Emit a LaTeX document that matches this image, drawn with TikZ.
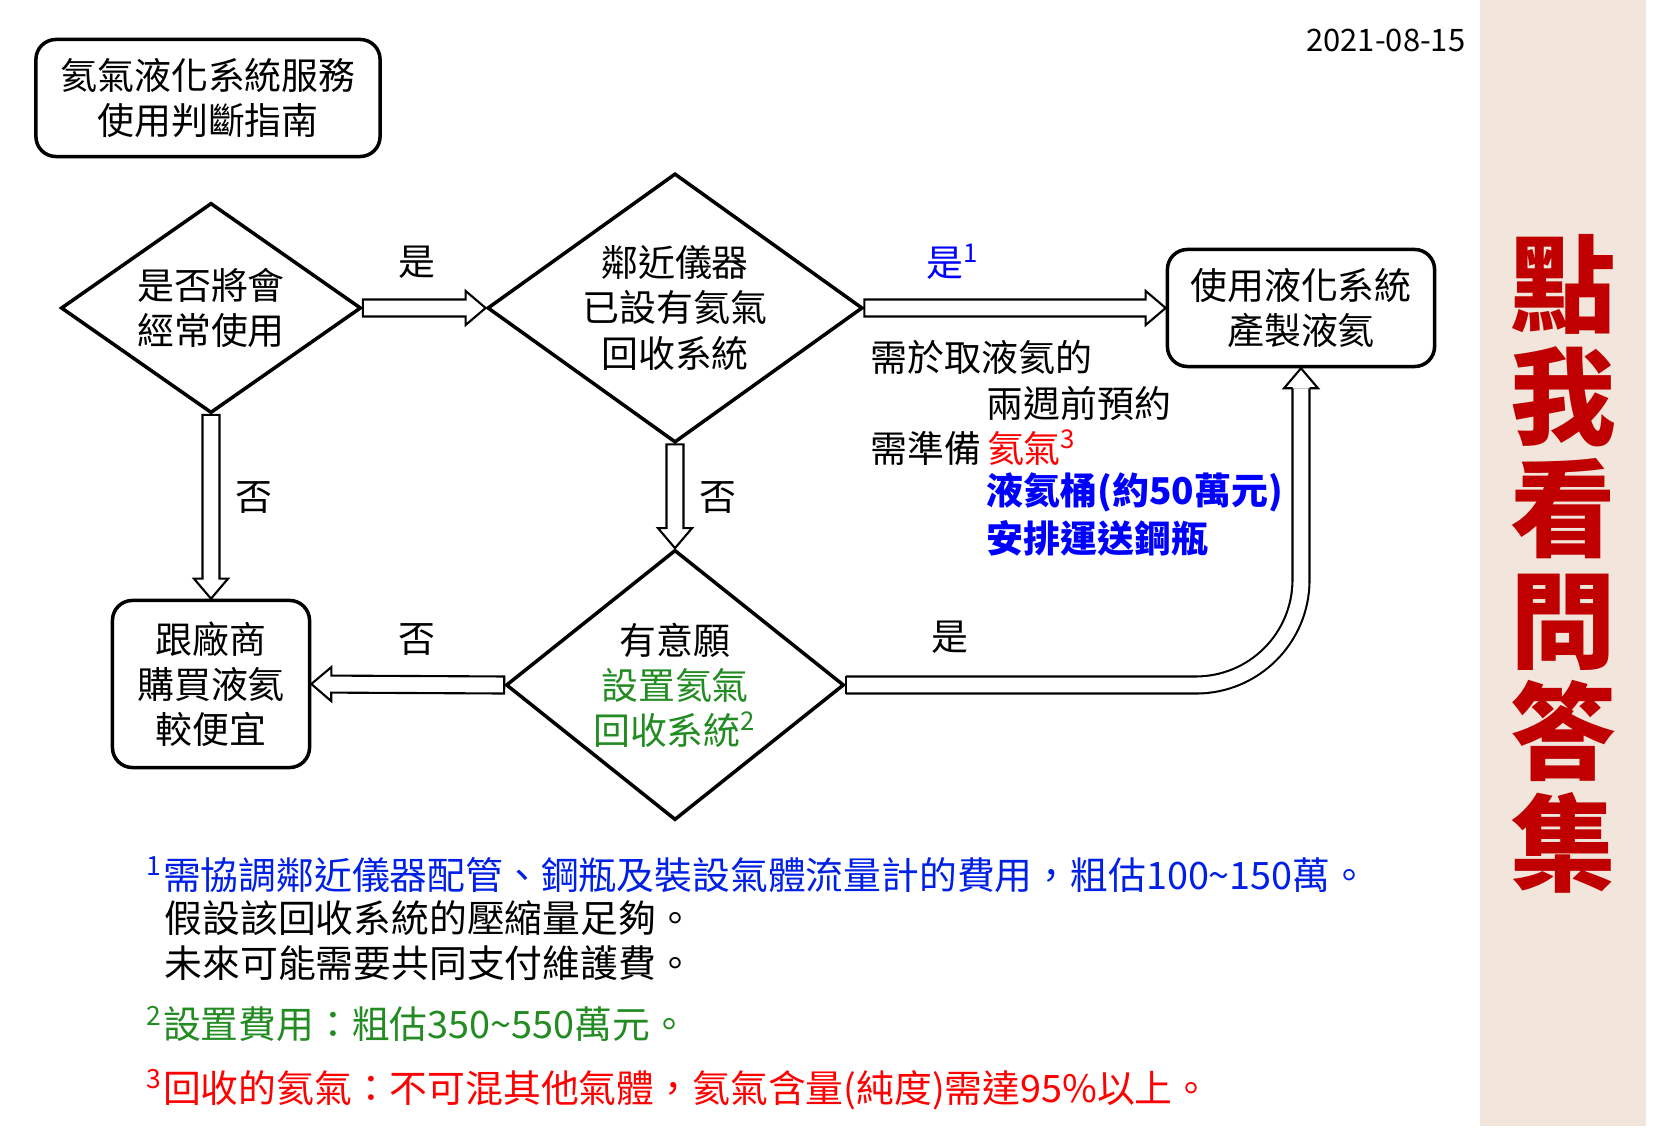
\documentclass[tikz,border=0pt]{standalone}
\usepackage{fontspec}
\setmainfont{Noto Sans CJK TC}
\usetikzlibrary{shapes.geometric,calc}
\definecolor{side}{RGB}{242,230,220}
\definecolor{darkred}{RGB}{192,0,0}
\definecolor{grn}{RGB}{34,139,34}
\definecolor{noteblue}{RGB}{0,32,230}
\newcommand{\fs}{\fontsize{10.5}{12.8}\selectfont}

\begin{document}
\begin{tikzpicture}[x=0.01cm,y=-0.01cm,every node/.style={font=\fs},
	box/.style={draw,line width=1pt,rounded corners=0.2cm,align=center,inner sep=0pt},
	decide/.style={draw,diamond,line width=1pt,align=center,inner sep=0pt,aspect=1.4},
	blk/.style={draw,line width=0.6pt,fill=white,line join=miter},
	thinline/.style={line width=0.6pt,line join=miter},
	dbl/.style={double=white,double distance=4.24pt,line width=0.6pt},
	note/.style={anchor=west,inner sep=0pt},
	foot/.style={anchor=west,inner sep=0pt,font=\fontsize{10.75}{13}\selectfont}]
	\useasboundingbox (0,0) rectangle (1663,1137);
	\fill[white] (0,0) rectangle (1663,1137);
	% side bar
	\fill[side] (1480,0) rectangle (1646,1126);
	\node[font=\fontsize{30}{31.8}\selectfont\bfseries,text=darkred,align=center] (faq) at (1563,564) {點\\我\\看\\問\\答\\集};
	\node[anchor=east,inner sep=0pt,font=\fontsize{8.8}{10}\selectfont] (date) at (1466,40) {2021-08-15};
	% boxes and decisions
	\node[box,minimum width=3.44cm,minimum height=1.17cm] (title) at (208,98) {氦氣液化系統服務\\使用判斷指南};
	\node[decide,minimum width=3cm,minimum height=2.1cm] (often) at (211,308) {是否將會\\經常使用};
	\node[decide,minimum width=3.75cm,minimum height=2.69cm] (nearby) at (675,308) {鄰近儀器\\已設有氦氣\\回收系統};
	\node[decide,minimum width=3.3cm,minimum height=2.7cm] (willing) at (675,685) {有意願\\\textcolor{grn}{設置氦氣}\\\textcolor{grn}{回收系統\textsuperscript{2}}};
	\node[box,minimum width=2.67cm,minimum height=1.17cm] (liquefy) at (1301,308) {使用液化系統\\產製液氦};
	\node[box,minimum width=1.97cm,minimum height=1.67cm] (vendor) at (211,684) {跟廠商\\購買液氦\\較便宜};
	% block arrows
	\foreach \a/\b in {often.east/nearby.west,nearby.east/liquefy.west,often.south/vendor.north,nearby.south/willing.north,willing.west/vendor.east}
		\draw[blk] let \p1=(\a), \p2=(\b), \n1={atan2(\y2-\y1,\x2-\x1)} in
			($(\p1)+(\n1+90:2.42pt)$) -- ($(\p2)+(\n1+180:5.69pt)+(\n1+90:2.42pt)$) -- ($(\p2)+(\n1+180:5.69pt)+(\n1+90:4.84pt)$) -- (\p2)
			-- ($(\p2)+(\n1+180:5.69pt)+(\n1-90:4.84pt)$) -- ($(\p2)+(\n1+180:5.69pt)+(\n1-90:2.42pt)$) -- ($(\p1)+(\n1-90:2.42pt)$) -- cycle;
	\draw[dbl,rounded corners=1.05cm,shorten >=5.69pt] (willing.east) -| (liquefy.south);
	\draw[thinline] ($(willing.east)+(0pt,2.42pt)$) -- ($(willing.east)+(0pt,-2.42pt)$);
	\draw[thinline] ($(liquefy.south)+(-2.42pt,-5.69pt)$) -- ++(-2.42pt,0pt) -- (liquefy.south) -- ++(4.84pt,-5.69pt) -- ++(-2.42pt,0pt);
	% arrow labels
	\node (yes1) at (417,262) {是};
	\node[anchor=west,inner sep=0pt,text=blue] (yes2) at (926,262) {是\textsuperscript{1}};
	\node (yes3) at (950,637) {是};
	\node (no1) at (254,498) {否};
	\node (no2) at (718,498) {否};
	\node (no3) at (417,640) {否};
	% pick-up notes
	\node[note] (pick1) at (870,357) {需於取液氦的};
	\node[note] (pick2) at (986,403) {兩週前預約};
	\node[note] (pick3) at (870,448) {需準備\hspace{0.15em}\textcolor{red}{氦氣\textsuperscript{3}}};
	\node[note,text=blue,font=\fs\bfseries] (pick4) at (986,492) {液氦桶(約50萬元)};
	\node[note,text=blue,font=\fs\bfseries] (pick5) at (986,538) {安排運送鋼瓶};
	% footnotes
	\node[foot,text=noteblue] (fn1) at (146,875) {\textsuperscript{1}需協調鄰近儀器配管、鋼瓶及裝設氣體流量計的費用，粗估100\textasciitilde150萬。};
	\node[foot] (fn1b) at (164,918) {假設該回收系統的壓縮量足夠。};
	\node[foot] (fn1c) at (164,963) {未來可能需要共同支付維護費。};
	\node[foot,text=grn] (fn2) at (146,1024) {\textsuperscript{2}設置費用：粗估350\textasciitilde550萬元。};
	\node[foot,text=red] (fn3) at (146,1090) {\textsuperscript{3}回收的氦氣：不可混其他氣體，氦氣含量(純度)需達95\%以上。};
\end{tikzpicture}
\end{document}
